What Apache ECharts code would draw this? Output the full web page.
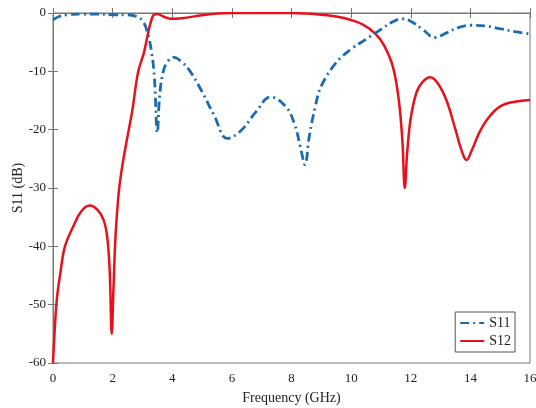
<!DOCTYPE html>
<html>
<head>
    <meta charset="utf-8"/>
    <title>S11 / S12</title>
    <script src="https://cdn.jsdelivr.net/npm/echarts@6/dist/echarts.min.js"></script>
    <style type="text/css">
        body { margin: 0; background: #fff; }
        #main { width: 536px; height: 408px; }
    </style>
</head>
<body>
<div id="main"></div>
<script type="text/javascript">
    // values
    var freqS11 = [0, 0.2, 0.5, 1.0, 1.5, 2.0, 2.5, 2.8, 3.0, 3.15, 3.3, 3.4, 3.5, 3.58, 3.7, 3.85, 4.05, 4.3, 4.6, 5.0, 5.4, 5.85, 6.3, 6.8, 7.3, 7.8, 8.1, 8.3, 8.45, 8.6, 8.8, 9.0, 9.5, 10.0, 10.5, 11.0, 11.4, 11.7, 12.0, 12.4, 12.8, 13.2, 13.6, 14.0, 14.5, 15.0, 15.5, 16.0];
    var s11 = [-1.2, -0.6, -0.3, -0.2, -0.2, -0.3, -0.3, -0.6, -1.3, -3.0, -6.5, -11, -20.5, -14, -10, -8.3, -7.6, -8.3, -10, -13.5, -17.5, -21.5, -20.2, -17, -14.4, -16, -19, -23, -26, -21, -16, -12.5, -8.5, -6.2, -4.5, -2.8, -1.5, -1.0, -1.4, -2.8, -4.2, -3.4, -2.5, -2.1, -2.2, -2.7, -3.2, -3.6];

    var freqS12 = [0, 0.05, 0.13, 0.25, 0.4, 0.67, 0.95, 1.24, 1.5, 1.7, 1.82, 1.9, 1.97, 2.03, 2.1, 2.2, 2.3, 2.45, 2.65, 2.86, 3.05, 3.2, 3.3, 3.38, 3.5, 3.7, 3.95, 4.3, 5.0, 5.5, 6.0, 7.0, 8.0, 8.5, 9.0, 9.5, 10.0, 10.4, 10.8, 11.1, 11.4, 11.6, 11.72, 11.8, 11.88, 12.0, 12.2, 12.4, 12.65, 12.9, 13.2, 13.5, 13.7, 13.87, 14.05, 14.3, 14.6, 15.0, 15.5, 16.0];
    var s12 = [-60, -55, -49, -44.5, -40, -36.7, -34, -33, -33.8, -35.5, -38.5, -44, -55, -47, -38, -31, -27, -22.5, -17, -10, -6.8, -3.2, -1.2, -0.3, -0.15, -0.6, -1.0, -0.9, -0.4, -0.1, 0, 0, 0, -0.1, -0.3, -0.6, -1.2, -2.0, -3.5, -5.5, -9.2, -15, -22, -30, -24, -18, -13.5, -11.8, -11, -12, -15, -20, -23.5, -25.2, -23.5, -20.5, -18, -16, -15.2, -14.9];

    var xTicks = [0, 16, 2];   // min, max, step
    var yTicks = [-60, 0, 10];

    function pairs(xs, ys) {
        var out = [];
        for (var i = 0; i < xs.length; i++) {
            out.push([xs[i], ys[i]]);
        }
        return out;
    }

    var font = '"Liberation Serif", "DejaVu Serif", serif';
    var axisGrey = '#777';

    var myChart = echarts.init(document.getElementById('main'));

    var tickOnly = {
        axisLine: { show: false },
        axisTick: { show: true, inside: true, length: 5, lineStyle: { color: axisGrey } },
        axisLabel: { show: false },
        splitLine: { show: false }
    };

    var option = {
        animation: false,
        backgroundColor: '#fff',
        grid: {
            left: 53, right: 6, top: 13, bottom: 45,
            outerBoundsMode: 'none',
            containLabel: false,
            show: true, borderColor: axisGrey, borderWidth: 1
        },
        legend: {
            orient: 'vertical',
            right: 21, bottom: 56,
            itemWidth: 24, itemHeight: 12, itemGap: 4,
            padding: [4, 4, 4, 4],
            borderColor: '#555', borderWidth: 1,
            backgroundColor: '#fff',
            itemStyle: { opacity: 0 },
            textStyle: { fontFamily: font, fontSize: 14, color: '#222' },
            data: ['S11', 'S12']
        },
        xAxis: [{
            type: 'value',
            min: xTicks[0], max: xTicks[1], interval: xTicks[2],
            name: 'Frequency (GHz)',
            nameLocation: 'middle',
            nameGap: 28,
            nameMoveOverlap: false,
            nameTextStyle: { fontFamily: font, fontSize: 14, color: '#222' },
            axisLine: { lineStyle: { color: axisGrey } },
            axisTick: { inside: true, length: 5, lineStyle: { color: axisGrey } },
            axisLabel: { fontFamily: font, fontSize: 13, color: '#222', margin: 9 },
            splitLine: { show: false }
        }, Object.assign({
            type: 'value', position: 'top',
            min: xTicks[0], max: xTicks[1], interval: xTicks[2]
        }, tickOnly)],
        yAxis: [{
            type: 'value',
            min: yTicks[0], max: yTicks[1], interval: yTicks[2],
            name: 'S11 (dB)',
            nameLocation: 'middle',
            nameGap: 28,
            nameMoveOverlap: false,
            nameTextStyle: { fontFamily: font, fontSize: 14, color: '#222' },
            axisLine: { show: true, lineStyle: { color: axisGrey } },
            axisTick: { show: true, inside: true, length: 5, lineStyle: { color: axisGrey } },
            axisLabel: { fontFamily: font, fontSize: 13, color: '#222', margin: 7 },
            splitLine: { show: false }
        }, Object.assign({
            type: 'value', position: 'right',
            min: yTicks[0], max: yTicks[1], interval: yTicks[2]
        }, tickOnly)],
        series: [{
            name: 'S11',
            type: 'line',
            data: pairs(freqS11, s11),
            showSymbol: false,
            symbol: 'none',
            smooth: 0.4,
            itemStyle: { color: '#1a6bb0' },
            lineStyle: { color: '#1a6bb0', width: 2.8, type: [9, 4, 2, 4] },
            z: 3
        }, {
            name: 'S12',
            type: 'line',
            data: pairs(freqS12, s12),
            showSymbol: false,
            symbol: 'none',
            smooth: 0.4,
            itemStyle: { color: '#e8101a' },
            lineStyle: { color: '#e8101a', width: 2.5 },
            z: 2
        }]
    };
    myChart.setOption(option);
</script>
</body>
</html>
